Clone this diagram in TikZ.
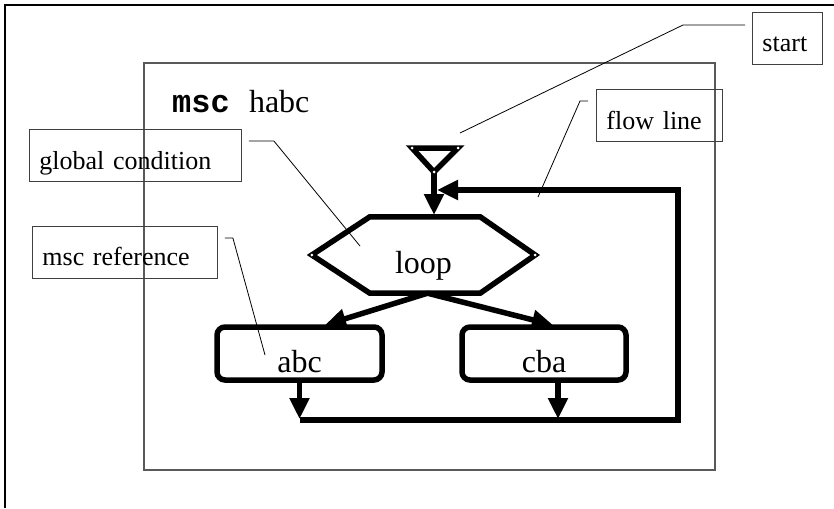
\documentclass[tikz,border=0pt]{standalone}
\usepackage{fontspec}
\setmainfont{Liberation Serif}
\setmonofont{Liberation Mono}
\usetikzlibrary{arrows.meta, calc}

\begin{document}
\begin{tikzpicture}[
    x=1pt, y=-1pt,
    lbl/.style={draw=black!75, line width=0.9pt, inner xsep=10pt, inner ysep=0pt, minimum height=52pt, align=left, text height=27pt, text depth=0pt, font=\fontsize{26}{30}\selectfont, anchor=west},
    mscref/.style={draw, line width=5.5pt, rounded corners=8pt, minimum width=165pt, minimum height=53pt, inner sep=0pt, text height=37pt, text depth=0pt, font=\fontsize{32}{36}\selectfont},
    flow/.style={line width=5.5pt, line join=miter, -{Triangle[length=21pt, width=19pt]}},
    leader/.style={line width=0.8pt},
    vdot/.style={fill=white},
]
    \useasboundingbox (0,0) rectangle (834,508);

    % frames
    \draw[line width=1.5pt] (5,508) -- (5,5) -- (834,5);
    \draw[draw=black!65, line width=1.3pt] (144,63) rectangle (715,470);
    \node[anchor=base west, inner sep=0pt, font=\fontsize{32}{36}\selectfont] (title) at (172,113) {{\ttfamily\bfseries msc }habc};

    % msc body
    \node[minimum width=223pt, minimum height=76pt, inner sep=0pt, text height=36pt, text depth=0pt, font=\fontsize{32}{36}\selectfont] (loop) at (423.5,255) {loop};
    \draw[line width=5.5pt, line join=miter] (loop.west) -- ($(loop.north west)+(58,0)$) -- ($(loop.north east)+(-55,0)$) -- (loop.east) -- ($(loop.south east)+(-55,0)$) -- ($(loop.south west)+(58,0)$) -- cycle;
    \node[mscref] (abc) at (299.5,353.5) {abc};
    \node[mscref, minimum width=164pt] (cba) at (544,353.5) {cba};

    \coordinate (stsym) at (434,172);
    \coordinate (entry) at (434,215);
    \coordinate (abcin) at (325,325);
    \coordinate (cbain) at (553,325);
    \coordinate (jl) at (299.5,420);
    \coordinate (jr) at (558,420);
    \coordinate (brc) at (678,420);
    \coordinate (trc) at (678,190);
    \coordinate (merge) at (437,190);

    \draw[line width=5.5pt, line join=miter] (stsym) -- ++(-22,-24) -- ++(46,0) -- cycle;
    \draw[flow] (stsym) -- (entry);
    \draw[flow] ($(loop.south)+(4,0)$) -- (abcin);
    \draw[flow] ($(loop.south)+(4,0)$) -- (cbain);
    \draw[flow] (abc.south) -- ($(jl)+(0,-1)$);
    \draw[flow] (cba.south -| jr) -- ($(jr)+(0,-1)$);
    \draw[flow] (jl) -- (brc) -- (trc) -- (merge);

    \fill[vdot] (stsym) circle (1.5pt);
    \fill[vdot] ($(stsym)+(-22,-24)$) circle (1.5pt);
    \fill[vdot] ($(stsym)+(24,-24)$) circle (1.5pt);
    \fill[vdot] (loop.west) circle (1.5pt);
    \fill[vdot] (loop.east) circle (1.5pt);

    % comment labels
    \node[lbl, text width=50pt] (start) at (752,38) {start};
    \node[lbl, text width=106pt] (flowlbl) at (596,115.5) {flow line};
    \node[lbl, text width=192pt] (glob) at (29,155.5) {global condition};
    \node[lbl, text width=165pt] (ref) at (32,252) {msc reference};

    \coordinate (sttip) at (460,133);
    \coordinate (fltip) at (538,197);
    \coordinate (gctip) at (360,246);
    \coordinate (mrtip) at (265,355);

    \draw[leader] ($(start.west)+(-7,-13)$) -- (683,25) -- (sttip);
    \draw[leader] ($(flowlbl.west)+(-8,-14.5)$) -- (580,101) -- (fltip);
    \draw[leader] ($(glob.east)+(7,-14.5)$) -- ++(25,0) -- (gctip);
    \draw[leader] ($(ref.east)+(7,-14)$) -- ++(8,0) -- (mrtip);
\end{tikzpicture}
\end{document}
